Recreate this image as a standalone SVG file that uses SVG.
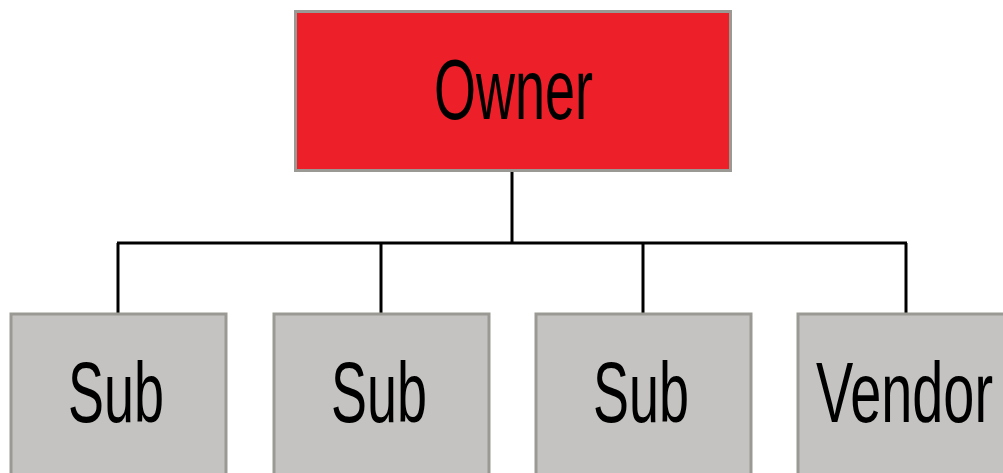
<svg xmlns="http://www.w3.org/2000/svg" width="1003" height="473" viewBox="0 0 1003 473">
  <style>
    .owner { fill: #ED1F28; stroke: #9A9994; stroke-width: 3; }
    .sub { fill: #C4C3C1; stroke: #9A9994; stroke-width: 3; }
    .label { font-family: "Liberation Sans", Arial, sans-serif; font-size: 86px; fill: #000; text-anchor: middle; }
    .link { fill: none; stroke: #000; stroke-width: 3; }
  </style>
  <rect width="1003" height="473" fill="#fff"/>
  <g id="connectors">
    <path class="link" d="M512 172 V243"/>
    <path class="link" d="M117 243 H907"/>
    <path class="link" d="M118 243 V313"/>
    <path class="link" d="M381 243 V313"/>
    <path class="link" d="M643 243 V313"/>
    <path class="link" d="M906 243 V313"/>
  </g>
  <g id="owner">
    <rect class="owner" x="295.5" y="11.5" width="435" height="159"/>
    <text class="label" x="513.5" y="119" textLength="159" lengthAdjust="spacingAndGlyphs">Owner</text>
  </g>
  <g id="sub1">
    <rect class="sub" x="11" y="314" width="215" height="180"/>
    <text class="label" x="116" y="422" textLength="96" lengthAdjust="spacingAndGlyphs">Sub</text>
  </g>
  <g id="sub2">
    <rect class="sub" x="274" y="314" width="215" height="180"/>
    <text class="label" x="379" y="422" textLength="96" lengthAdjust="spacingAndGlyphs">Sub</text>
  </g>
  <g id="sub3">
    <rect class="sub" x="536" y="314" width="215" height="180"/>
    <text class="label" x="641" y="422" textLength="96" lengthAdjust="spacingAndGlyphs">Sub</text>
  </g>
  <g id="vendor">
    <rect class="sub" x="798" y="314" width="215" height="180"/>
    <text class="label" x="904.5" y="422" textLength="177" lengthAdjust="spacingAndGlyphs">Vendor</text>
  </g>
</svg>
